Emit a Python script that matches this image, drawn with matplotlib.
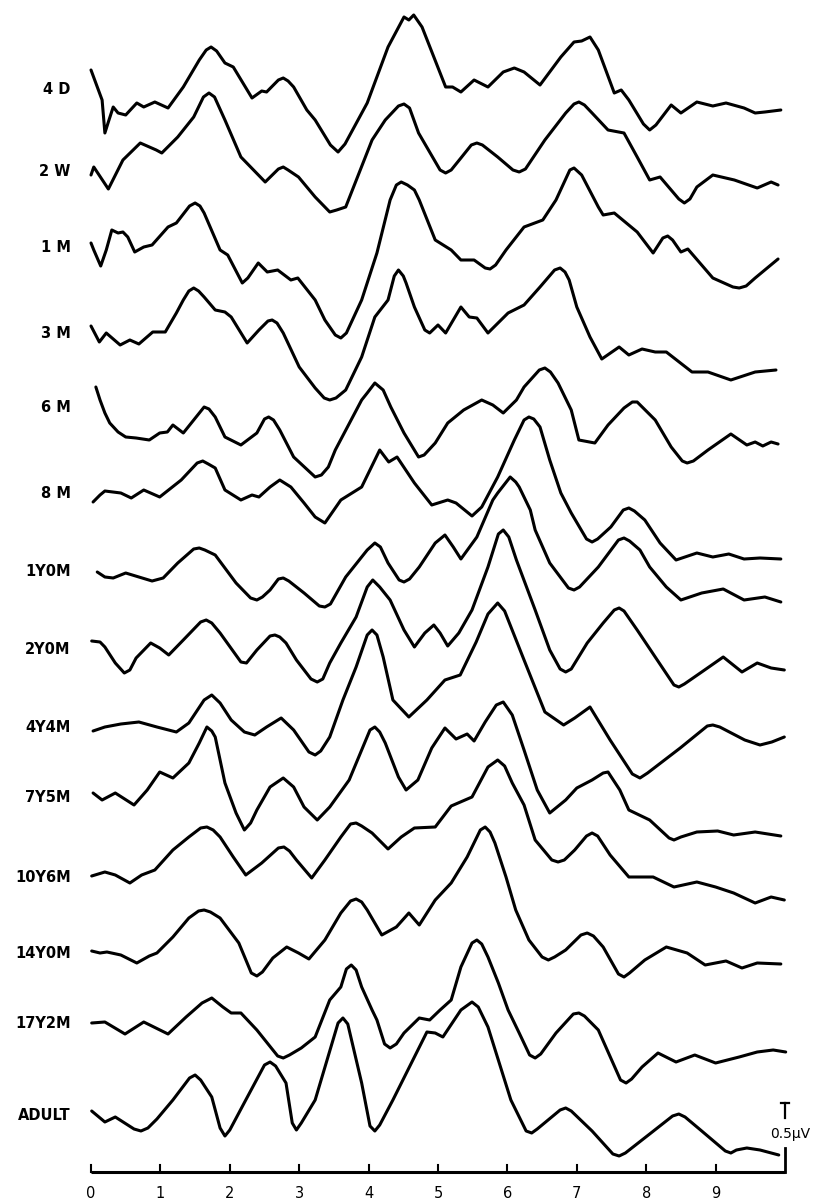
import matplotlib
matplotlib.use("Agg")
import matplotlib.pyplot as plt

# ---------------- data: (time ms, amplitude in figure amplitude units) ----------------
labels = ["4 D", "2 W", "1 M", "3 M", "6 M", "8 M", "1Y0M", "2Y0M", "4Y4M",
          "7Y5M", "10Y6M", "14Y0M", "17Y2M", "ADULT"]

trace_4d = [(0.00, 0), (0.16, -30), (0.20, -63), (0.25, -52), (0.32, -37), (0.39, -43), (0.50, -45), (0.66, -33),
            (0.76, -37), (0.92, -32), (1.11, -38), (1.33, -17), (1.56, 10), (1.66, 20), (1.73, 23), (1.81, 19),
            (1.93, 7), (2.05, 3), (2.32, -28), (2.46, -21), (2.53, -22), (2.70, -10), (2.77, -8), (2.84, -11),
            (2.92, -17), (3.11, -40), (3.23, -50), (3.45, -75), (3.56, -82), (3.66, -74), (3.98, -33), (4.28, 23),
            (4.51, 53), (4.58, 50), (4.65, 55), (4.77, 43), (5.11, -17), (5.21, -17), (5.33, -22), (5.52, -10),
            (5.72, -17), (5.94, -2), (6.10, 2), (6.24, -2), (6.47, -15), (6.77, 13), (6.96, 28), (7.07, 29),
            (7.19, 33), (7.31, 20), (7.54, -23), (7.64, -20), (7.75, -30), (7.96, -54), (8.05, -60), (8.14, -55),
            (8.36, -35), (8.50, -43), (8.73, -32), (8.96, -36), (9.15, -33), (9.41, -38), (9.57, -43), (9.71, -42),
            (9.94, -40)]

trace_2w = [(0.00, 0), (0.04, 8), (0.25, -14), (0.46, 15), (0.71, 32), (0.94, 25), (1.02, 22), (1.25, 38),
            (1.48, 58), (1.62, 78), (1.70, 82), (1.78, 78), (1.93, 55), (2.16, 18), (2.51, -7), (2.70, 6),
            (2.77, 8), (2.84, 5), (2.99, -2), (3.23, -22), (3.44, -37), (3.54, -35), (3.67, -32), (4.05, 35),
            (4.24, 55), (4.43, 69), (4.51, 71), (4.59, 67), (4.72, 42), (5.03, 5), (5.11, 2), (5.19, 5),
            (5.33, 17), (5.48, 30), (5.56, 32), (5.64, 30), (5.86, 18), (6.08, 5), (6.17, 3), (6.26, 6),
            (6.54, 35), (6.84, 62), (6.96, 71), (7.03, 73), (7.11, 70), (7.22, 62), (7.45, 45), (7.68, 42),
            (7.87, 18), (8.05, -5), (8.20, -2), (8.47, -24), (8.55, -28), (8.63, -24), (8.73, -12), (8.96, 0),
            (9.27, -5), (9.60, -13), (9.80, -7), (9.90, -10)]

trace_1m = [(0.00, 0), (0.04, -7), (0.14, -23), (0.22, -7), (0.30, 13), (0.39, 10), (0.46, 11), (0.53, 6),
            (0.63, -9), (0.76, -4), (0.88, -2), (1.11, 16), (1.23, 20), (1.42, 37), (1.50, 40), (1.57, 37),
            (1.63, 30), (1.86, -7), (1.97, -12), (2.18, -40), (2.26, -35), (2.41, -20), (2.54, -29), (2.69, -27),
            (2.88, -37), (2.98, -35), (3.23, -57), (3.37, -77), (3.52, -92), (3.60, -95), (3.68, -90), (3.90, -57),
            (4.12, -10), (4.31, 43), (4.40, 58), (4.47, 61), (4.56, 58), (4.66, 53), (4.73, 43), (4.96, 3),
            (5.19, -7), (5.33, -17), (5.52, -17), (5.68, -25), (5.75, -26), (5.83, -22), (5.98, -7), (6.24, 16),
            (6.51, 23), (6.70, 43), (6.90, 73), (6.96, 75), (7.07, 68), (7.31, 36), (7.38, 28), (7.54, 30),
            (7.87, 11), (8.10, -10), (8.24, 5), (8.31, 7), (8.38, 3), (8.50, -9), (8.60, -6), (8.96, -35),
            (9.25, -44), (9.34, -45), (9.44, -43), (9.57, -35), (9.90, -16)]

trace_3m = [(0.00, 0), (0.12, -16), (0.22, -7), (0.42, -19), (0.56, -14), (0.69, -18), (0.89, -6), (1.07, -6),
            (1.23, 13), (1.33, 26), (1.41, 35), (1.48, 38), (1.55, 35), (1.63, 29), (1.79, 16), (1.93, 14),
            (2.02, 9), (2.25, -17), (2.42, -4), (2.55, 5), (2.61, 6), (2.68, 3), (2.77, -7), (3.00, -41),
            (3.23, -62), (3.36, -72), (3.44, -74), (3.53, -72), (3.67, -64), (3.90, -31), (4.09, 9), (4.28, 26),
            (4.37, 50), (4.43, 56), (4.50, 50), (4.54, 43), (4.66, 19), (4.81, -4), (4.88, -7), (5.00, 1),
            (5.11, -7), (5.33, 19), (5.45, 9), (5.56, 8), (5.72, -7), (6.01, 13), (6.24, 21), (6.47, 39),
            (6.68, 56), (6.76, 58), (6.83, 54), (6.89, 46), (7.00, 19), (7.19, -11), (7.36, -33), (7.61, -21),
            (7.75, -29), (7.94, -23), (8.13, -26), (8.29, -26), (8.66, -46), (8.89, -46), (9.22, -54), (9.57, -46),
            (9.87, -44)]

trace_6m = [(0.07, 0), (0.13, -13), (0.20, -26), (0.27, -36), (0.39, -45), (0.50, -50), (0.65, -51), (0.84, -53),
            (0.99, -46), (1.10, -45), (1.18, -38), (1.33, -46), (1.48, -33), (1.63, -20), (1.70, -22), (1.79, -30),
            (1.93, -50), (2.16, -58), (2.39, -46), (2.50, -32), (2.56, -30), (2.63, -33), (2.72, -43), (2.92, -70),
            (3.23, -90), (3.32, -88), (3.42, -80), (3.52, -63), (3.90, -13), (3.98, -6), (4.09, 4), (4.21, -3),
            (4.32, -20), (4.51, -46), (4.72, -70), (4.80, -68), (4.96, -56), (5.14, -36), (5.37, -23), (5.63, -13),
            (5.79, -18), (5.94, -26), (6.13, -13), (6.24, 0), (6.46, 17), (6.54, 19), (6.62, 15), (6.73, 4),
            (6.92, -23), (7.03, -53), (7.26, -56), (7.45, -38), (7.68, -21), (7.80, -15), (7.87, -15), (8.13, -33),
            (8.36, -60), (8.52, -74), (8.59, -76), (8.68, -74), (8.89, -63), (9.22, -47), (9.45, -58), (9.57, -55),
            (9.68, -59), (9.80, -55), (9.90, -57)]

trace_8m = [(0.03, 0), (0.13, 7), (0.20, 11), (0.43, 9), (0.58, 4), (0.76, 12), (0.99, 5), (1.30, 22),
            (1.53, 39), (1.61, 41), (1.69, 38), (1.79, 34), (1.93, 12), (2.16, 2), (2.32, 7), (2.42, 5),
            (2.58, 15), (2.72, 22), (2.88, 15), (3.07, -1), (3.23, -15), (3.37, -21), (3.60, 2), (3.90, 15),
            (4.16, 52), (4.29, 40), (4.41, 45), (4.66, 19), (4.91, -3), (5.14, 2), (5.26, -1), (5.49, -14),
            (5.63, -5), (5.86, 25), (6.10, 62), (6.24, 82), (6.31, 85), (6.38, 83), (6.47, 75), (6.61, 42),
            (6.77, 9), (6.92, -11), (7.14, -37), (7.22, -40), (7.30, -37), (7.49, -25), (7.67, -8), (7.75, -6),
            (7.83, -9), (7.98, -18), (8.20, -41), (8.43, -58), (8.73, -51), (8.96, -55), (9.19, -52), (9.41, -57),
            (9.64, -56), (9.94, -57)]

trace_1y0m = [(0.09, 0), (0.20, -5), (0.32, -6), (0.50, -1), (0.69, -5), (0.88, -9), (1.04, -6), (1.25, 9),
              (1.48, 23), (1.56, 24), (1.64, 22), (1.79, 17), (2.09, -11), (2.30, -26), (2.39, -28), (2.47, -25),
              (2.58, -18), (2.70, -7), (2.77, -6), (2.85, -9), (3.07, -21), (3.29, -34), (3.37, -35), (3.45, -32),
              (3.67, -5), (3.98, 22), (4.09, 29), (4.17, 25), (4.28, 9), (4.44, -8), (4.51, -10), (4.59, -7),
              (4.73, 5), (4.96, 29), (5.10, 37), (5.22, 25), (5.33, 13), (5.56, 35), (5.79, 72), (5.86, 79),
              (6.04, 95), (6.12, 90), (6.17, 85), (6.33, 62), (6.40, 42), (6.61, 9), (6.88, -16), (6.96, -18),
              (7.04, -15), (7.31, 5), (7.60, 32), (7.68, 34), (7.76, 31), (7.91, 22), (8.05, 5), (8.29, -15),
              (8.50, -28), (8.80, -21), (9.11, -17), (9.41, -28), (9.71, -25), (9.94, -30)]

trace_2y0m = [(0.01, 0), (0.13, -1), (0.20, -6), (0.35, -22), (0.48, -32), (0.56, -29), (0.65, -17), (0.86, -2),
              (0.99, -7), (1.12, -14), (1.33, 1), (1.58, 19), (1.66, 21), (1.74, 18), (1.86, 8), (2.16, -21),
              (2.24, -22), (2.39, -9), (2.58, 5), (2.65, 6), (2.72, 4), (2.81, -2), (2.96, -19), (3.17, -38),
              (3.26, -41), (3.34, -38), (3.44, -22), (3.60, -2), (3.82, 24), (3.98, 54), (4.06, 61), (4.16, 54),
              (4.31, 41), (4.51, 11), (4.66, -6), (4.81, 8), (4.94, 16), (5.03, 8), (5.14, -5), (5.30, 8),
              (5.49, 31), (5.72, 74), (5.87, 107), (5.94, 111), (6.02, 104), (6.13, 81), (6.40, 31), (6.61, -9),
              (6.76, -28), (6.84, -31), (6.92, -28), (7.15, -2), (7.38, 18), (7.54, 31), (7.61, 33), (7.68, 30),
              (7.87, 11), (8.13, -16), (8.40, -44), (8.47, -46), (8.55, -43), (8.80, -31), (9.11, -16), (9.38, -31),
              (9.60, -22), (9.80, -27), (9.99, -29)]

trace_4y4m = [(0.03, 0), (0.20, 4), (0.43, 7), (0.69, 9), (0.95, 4), (1.23, -1), (1.41, 8), (1.63, 31),
              (1.74, 36), (1.86, 28), (2.02, 11), (2.21, -1), (2.36, -4), (2.53, 4), (2.74, 13), (2.92, 1),
              (3.14, -21), (3.23, -24), (3.31, -20), (3.44, -6), (3.63, 31), (3.82, 64), (3.98, 96), (4.05, 101),
              (4.12, 96), (4.21, 74), (4.35, 31), (4.58, 14), (4.84, 31), (5.10, 51), (5.32, 56), (5.55, 89),
              (5.72, 117), (5.86, 128), (5.96, 120), (6.04, 106), (6.24, 71), (6.54, 19), (6.81, 6), (6.97, 13),
              (7.19, 24), (7.48, -9), (7.80, -43), (7.91, -47), (8.02, -42), (8.49, -17), (8.88, 5), (8.96, 6),
              (9.06, 4), (9.42, -9), (9.64, -14), (9.81, -11), (9.99, -6)]

trace_7y5m = [(0.03, 0), (0.16, -7), (0.35, 0), (0.62, -12), (0.81, 3), (0.99, 21), (1.18, 15), (1.41, 30),
              (1.56, 50), (1.67, 66), (1.74, 62), (1.79, 56), (1.93, 10), (2.09, -20), (2.21, -37), (2.30, -30),
              (2.39, -17), (2.58, 6), (2.77, 15), (2.92, 6), (3.07, -14), (3.26, -27), (3.44, -14), (3.72, 13),
              (3.90, 43), (4.02, 63), (4.09, 66), (4.16, 61), (4.24, 50), (4.43, 16), (4.54, 3), (4.71, 13),
              (4.91, 45), (5.10, 65), (5.26, 54), (5.42, 59), (5.52, 52), (5.68, 71), (5.84, 88), (5.94, 91),
              (6.07, 78), (6.24, 43), (6.43, 3), (6.61, -20), (6.84, -7), (7.00, 5), (7.22, 13), (7.38, 20),
              (7.45, 21), (7.62, 3), (7.75, -17), (8.05, -27), (8.33, -45), (8.40, -47), (8.50, -44), (8.73, -39),
              (9.03, -38), (9.26, -42), (9.57, -39), (9.94, -43)]

trace_10y6m = [(0.01, 0), (0.20, 4), (0.35, 1), (0.56, -7), (0.73, 1), (0.92, 6), (1.18, 26), (1.41, 39),
               (1.58, 48), (1.67, 49), (1.76, 46), (1.86, 39), (2.05, 19), (2.23, 1), (2.46, 13), (2.70, 28),
               (2.78, 29), (2.86, 25), (2.96, 16), (3.18, -2), (3.37, 16), (3.60, 39), (3.74, 52), (3.82, 53),
               (3.90, 50), (4.05, 43), (4.28, 27), (4.47, 39), (4.66, 48), (4.96, 49), (5.19, 70), (5.49, 79),
               (5.72, 109), (5.86, 116), (5.96, 110), (6.07, 93), (6.24, 71), (6.40, 36), (6.64, 16), (6.73, 14),
               (6.82, 16), (6.97, 26), (7.14, 40), (7.22, 43), (7.30, 40), (7.48, 21), (7.75, -1), (8.10, -1),
               (8.40, -11), (8.73, -6), (9.00, -11), (9.26, -17), (9.57, -27), (9.80, -21), (9.99, -24)]

trace_14y0m = [(0.01, 0), (0.13, -2), (0.23, -1), (0.43, -4), (0.66, -12), (0.84, -5), (0.95, -2), (1.18, 14),
               (1.41, 33), (1.55, 40), (1.63, 41), (1.72, 39), (1.86, 33), (2.13, 8), (2.31, -22), (2.39, -25),
               (2.47, -21), (2.62, -7), (2.82, 4), (2.99, -2), (3.14, -8), (3.37, 11), (3.60, 38), (3.74, 50),
               (3.82, 52), (3.90, 49), (3.98, 41), (4.19, 16), (4.40, 24), (4.58, 38), (4.73, 26), (4.96, 51),
               (5.19, 68), (5.42, 94), (5.61, 121), (5.68, 124), (5.75, 119), (5.82, 108), (5.98, 74), (6.12, 41),
               (6.31, 11), (6.50, -6), (6.59, -9), (6.68, -6), (6.84, 1), (7.06, 16), (7.15, 18), (7.24, 15),
               (7.38, 4), (7.60, -23), (7.68, -26), (7.76, -22), (7.98, -9), (8.29, 4), (8.59, -2), (8.85, -14),
               (9.15, -10), (9.38, -17), (9.60, -12), (9.94, -13)]

trace_17y2m = [(0.01, 0), (0.20, 1), (0.49, -11), (0.76, 1), (1.11, -11), (1.37, 6), (1.60, 20), (1.74, 25),
               (1.90, 16), (2.02, 10), (2.16, 10), (2.39, -7), (2.69, -33), (2.77, -35), (2.86, -32), (3.03, -25),
               (3.23, -14), (3.44, 23), (3.60, 36), (3.68, 54), (3.75, 58), (3.82, 53), (3.90, 36), (4.05, 13),
               (4.12, 3), (4.23, -21), (4.31, -25), (4.40, -21), (4.51, -10), (4.73, 5), (4.88, 3), (5.03, 13),
               (5.19, 23), (5.33, 56), (5.49, 80), (5.56, 83), (5.63, 79), (5.72, 66), (5.87, 40), (6.01, 13),
               (6.17, -10), (6.32, -32), (6.40, -35), (6.48, -31), (6.70, -10), (6.95, 9), (7.03, 10), (7.11, 7),
               (7.31, -7), (7.63, -57), (7.71, -60), (7.79, -56), (7.94, -44), (8.17, -30), (8.43, -39), (8.70, -32),
               (9.00, -40), (9.34, -34), (9.60, -29), (9.83, -27), (10.01, -29)]

trace_adult = [(0.01, 0), (0.20, -11), (0.35, -6), (0.62, -18), (0.72, -20), (0.82, -17), (0.95, -8), (1.18, 11),
               (1.42, 33), (1.50, 36), (1.58, 31), (1.74, 14), (1.86, -17), (1.93, -25), (2.00, -19), (2.23, 11),
               (2.50, 46), (2.58, 49), (2.66, 45), (2.81, 28), (2.90, -12), (2.96, -19), (3.03, -12), (3.23, 11),
               (3.56, 88), (3.63, 93), (3.70, 87), (3.90, 28), (4.02, -15), (4.09, -20), (4.16, -14), (4.35, 11),
               (4.84, 79), (4.96, 78), (5.07, 74), (5.33, 101), (5.49, 109), (5.58, 104), (5.72, 84), (6.05, 11),
               (6.27, -20), (6.35, -22), (6.43, -18), (6.76, 1), (6.84, 3), (6.92, 0), (7.22, -20), (7.52, -43),
               (7.61, -45), (7.70, -42), (8.05, -23), (8.38, -5), (8.47, -3), (8.56, -6), (8.80, -20), (9.14, -40),
               (9.22, -42), (9.30, -39), (9.45, -37), (9.64, -39), (9.91, -44)]

traces = [trace_4d, trace_2w, trace_1m, trace_3m, trace_6m, trace_8m, trace_1y0m, trace_2y0m,
          trace_4y4m, trace_7y5m, trace_10y6m, trace_14y0m, trace_17y2m, trace_adult]

tick_values = list(range(10))
scale_label = "0.5\u00b5V"

# ---------------- layout --------------------------------------------------------------
baselines = [1133, 1028, 960, 877, 816, 701, 631, 562, 472, 410, 327, 252, 180, 92]
label_y = [1114, 1031, 955, 870, 796, 710, 631, 553, 475, 405, 326, 249, 179, 88]
axis_y = 31

FONT = ["Liberation Sans Narrow", "DejaVu Sans"]

fig = plt.figure(figsize=(8.22, 12.03), dpi=100)
ax = fig.add_axes([0, 0, 1, 1])
ax.set_xlim(-91 / 69.4, (822 - 91) / 69.4)
ax.set_ylim(0, 1203)
ax.axis("off")

for name, tr, base, ly in zip(labels, traces, baselines, label_y):
    t = [p[0] for p in tr]
    y = [base + p[1] for p in tr]
    ax.plot(t, y, color="black", lw=2.2, solid_joinstyle="round", solid_capstyle="round")
    ax.text(-0.29, ly, name, ha="right", va="center", fontsize=10.5,
            fontweight="bold", family=FONT)

# time axis
ax.plot([0, 10], [axis_y, axis_y], color="black", lw=2.2, solid_capstyle="butt")
for v in tick_values:
    ax.plot([v, v], [axis_y, axis_y + 7], color="black", lw=1.5)
    ax.text(v, axis_y - 21, str(v), ha="center", va="center", fontsize=10.5, family=FONT)

# calibration bar
ax.plot([10, 10], [axis_y, axis_y + 24], color="black", lw=2.0)
ax.plot([10, 10], [85, 100], color="black", lw=1.6)
ax.plot([9.94, 10.06], [100, 100], color="black", lw=1.6)
ax.text(10.07, 69, scale_label, ha="center", va="center", fontsize=10, family=FONT)

fig.savefig("out.png", dpi=100)
